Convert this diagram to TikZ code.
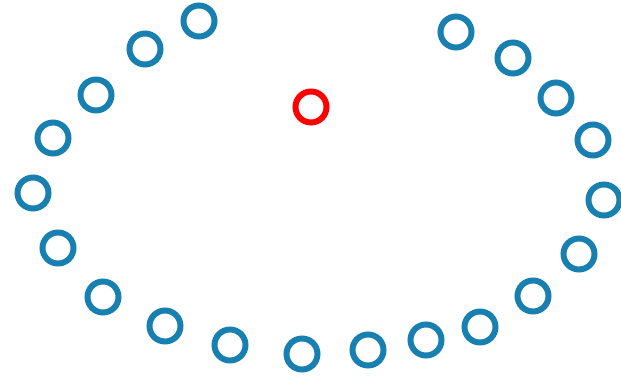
\documentclass[tikz,border=0pt]{standalone}
\definecolor{ringblue}{RGB}{24,128,176}
\definecolor{ringred}{RGB}{255,0,0}
\tikzset{
  ring/.style={circle, draw=ringblue, line width=6pt, minimum size=31pt, inner sep=0pt},
  redring/.style={ring, draw=ringred}
}
\begin{document}
\begin{tikzpicture}[x=1pt,y=-1pt]
\useasboundingbox (0,0) rectangle (621,380);
\foreach \n/\x/\y in {a/199/21, b/145/49, c/96/95, d/53/138, e/33/193, f/58/248, g/103/297, h/165/326, i/230/345, j/302/354, k/368/350, l/426/340, m/480/327, n/533/296, o/579/254, p/604/200, q/593/140, r/556/98, s/513/58, t/456/32}{
  \node[ring] (\n) at (\x,\y) {};
}
\node[redring] (center) at (311,107) {};
\end{tikzpicture}
\end{document}
